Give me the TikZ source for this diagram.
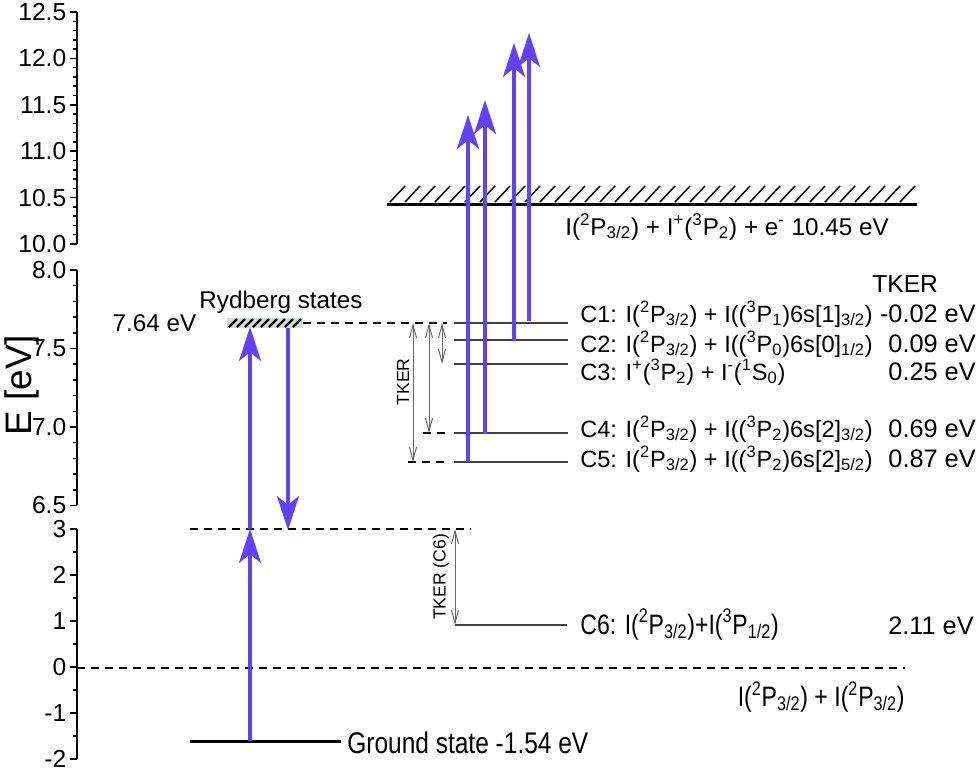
\documentclass[tikz,border=0pt]{standalone}
\usepackage{fontspec}
\setmainfont{Liberation Sans}
\newfontfamily\narrowfont[FakeStretch=0.82]{Liberation Sans}
\usetikzlibrary{arrows.meta,positioning}
\definecolor{laser}{RGB}{98,64,255}
\definecolor{rydfill}{RGB}{214,222,218}
\colorlet{tk}{black!60}
\newcommand{\st}[2]{\textsuperscript{#1}P\textsubscript{#2}}
\tikzset{ax/.style={line width=0.03cm},
  lvl/.style={draw=black!75, line width=0.025cm},
  dsh/.style={line width=0.03cm, dash pattern=on 0.16cm off 0.12cm},
  gnd/.style={line width=0.06cm},
  up/.style={draw=laser, line width=0.07cm, -{Stealth[length=0.68cm, width=0.44cm, inset=0.18cm]}},
  tker/.style={draw=tk, line width=0.02cm, {Straight Barb[length=0.26cm, width=0.14cm]}-{Straight Barb[length=0.26cm, width=0.14cm]}},
  tick/.style={anchor=east, inner sep=0pt, xshift=-0.06cm, font=\fontsize{14}{14}\selectfont},
  lab/.style={inner sep=0pt, font=\fontsize{13.4}{15}\selectfont},
  val/.style={inner sep=0pt, anchor=base east, font=\fontsize{14.4}{16}\selectfont},
  nar/.style={inner sep=0pt, font=\narrowfont\fontsize{17}{18}\selectfont},
  sml/.style={inner sep=0pt, rotate=90, font=\fontsize{10}{11}\selectfont}}

\begin{document}
\begin{tikzpicture}[x=0.02cm, y=-0.02cm]
\useasboundingbox (0,0) rectangle (980,772);

% broken energy axis
\draw[ax] (77,12) -- (77,244);
\draw[ax] (77,270) -- (77,505);
\draw[ax] (77,529) -- (77,759);
\foreach \i in {0,...,25} \draw[ax] (77,{244-\i*9.28}) -- ++(-4,0);
\foreach \e in {10.0,10.5,11.0,11.5,12.0,12.5}
  \draw[ax] (77,{244-(\e-10)*92.8}) -- ++(-7,0) node[tick] {\e};
\foreach \i in {0,...,15} \draw[ax] (77,{270+\i*15.7}) -- ++(-4,0);
\foreach \e in {6.5,7.0,7.5,8.0}
  \draw[ax] (77,{270+(8-\e)*157}) -- ++(-7,0) node[tick] {\e};
\foreach \i in {0,...,10} \draw[ax] (77,{529+\i*23}) -- ++(-4,0);
\foreach \e in {-2,...,3}
  \draw[ax] (77,{667-46*\e}) -- ++(-7,0) node[tick] {\e};
\node[rotate=90, inner sep=0pt, font=\fontsize{21}{22}\selectfont] (E) at (22,385) {E [eV]};

% ground state and two-photon level
\coordinate (g0) at (190,741);
\coordinate (g1) at (341,741);
\coordinate (gs) at (250,741);
\draw[gnd] (g0) -- (g1);
\node[nar, anchor=west] (gslab) at (347,743) {Ground state -1.54 eV};
\coordinate (m0) at (190,529);
\coordinate (m1) at (470,529);
\coordinate (mid) at (250,529);
\coordinate (dn) at (288,530);
\draw[dsh] (m0) -- (m1);
\coordinate (z0) at (77,668);
\coordinate (z1) at (905,668);
\draw[dsh] (z0) -- (z1);
\node[nar, font=\narrowfont\fontsize{16}{18}\selectfont, anchor=base east] (zlab) at (905,706) {I(\st{2}{3/2}) + I(\st{2}{3/2})};

% Rydberg states
\node[minimum width=1.52cm, minimum height=0.2cm, inner sep=0pt, fill=rydfill] (ryd) at (265,323) {};
\foreach \x in {229,237,...,295} \draw[line width=0.045cm] (\x,327) -- ++(8,-8);
\node[lab, font=\fontsize{13.8}{15}\selectfont] (rydlab) [above=0.08cm of ryd, xshift=0.32cm] {Rydberg states};
\node[lab, font=\fontsize{13.8}{15}\selectfont] (ryde) [left=0.6cm of ryd] {7.64 eV};
\coordinate (rup) at (250,327);
\coordinate (rdn) at (288,328);
\coordinate (t0) at (447,323);
\draw[dsh] (ryd.east) -- (t0);

\draw[up] (gs) -- (mid);
\draw[up] (mid) -- (rup);
\draw[up] (rdn) -- (dn);

% dissociation limits C1-C5
\foreach \n/\y in {1/323, 2/340, 3/364, 4/433, 5/462} {
  \coordinate (C\n) at (454,\y);
  \coordinate (E\n) at (568,\y);
  \draw[lvl] (C\n) -- (E\n);
}
\node[lab, anchor=base west] (l1) at (580,322) {C1: I(\st{2}{3/2}) + I((\st{3}{1})6s[1]\textsubscript{3/2})};
\node[lab, anchor=base west] (l2) at (580,352) {C2: I(\st{2}{3/2}) + I((\st{3}{0})6s[0]\textsubscript{1/2})};
\node[lab, anchor=base west] (l3) at (580,380) {C3: I\textsuperscript{+}(\st{3}{2}) + I\textsuperscript{-}(\textsuperscript{1}S\textsubscript{0})};
\node[lab, anchor=base west] (l4) at (580,437) {C4: I(\st{2}{3/2}) + I((\st{3}{2})6s[2]\textsubscript{3/2})};
\node[lab, anchor=base west] (l5) at (580,467) {C5: I(\st{2}{3/2}) + I((\st{3}{2})6s[2]\textsubscript{5/2})};
\node[lab, font=\fontsize{14}{15}\selectfont, anchor=base west] (tkh) at (872,292) {TKER};
\node[val] (v1) at (976,322) {-0.02 eV};
\node[val] (v2) at (976,352) {0.09 eV};
\node[val] (v3) at (976,380) {0.25 eV};
\node[val] (v4) at (976,437) {0.69 eV};
\node[val] (v5) at (976,467) {0.87 eV};

% TKER arrows
\coordinate (k4) at (423,433);
\coordinate (k5) at (408,462);
\coordinate (d4) at (447,433);
\coordinate (d5) at (447,462);
\draw[dsh] (k4) -- (d4);
\draw[dsh] (k5) -- (d5);
\coordinate (a1) at (413,323); \coordinate (b1) at (413,462);
\coordinate (a2) at (429,323); \coordinate (b2) at (429,433);
\coordinate (a3) at (442,323); \coordinate (b3) at (442,364);
\draw[tker] (a1) -- (b1);
\draw[tker] (a2) -- (b2);
\draw[tker] (a3) -- (b3);
\node[sml] (tk) at (403,382) {TKER};

% C6
\coordinate (C6) at (455,625);
\coordinate (E6) at (567,625);
\coordinate (a6) at (455,529);
\draw[lvl] (C6) -- (E6);
\draw[tker] (a6) -- (C6);
\node[sml] (tk6) at (441,577) {TKER (C6)};
\node[nar, font=\narrowfont\fontsize{16}{17}\selectfont, anchor=base west] (l6) at (580,634) {C6: I(\st{2}{3/2})+I(\st{3}{1/2})};
\node[val] (v6) at (974,634) {2.11 eV};

% ionisation limit
\coordinate (i0) at (387,204);
\coordinate (i1) at (917,204);
\draw[gnd] (i0) -- (i1);
\foreach \x in {390,405,...,900} \draw[line width=0.03cm] (\x,202) -- ++(15,-16);
\node[lab, font=\fontsize{13.8}{15}\selectfont, anchor=base west] (ion) at (565,235) {I(\st{2}{3/2}) + I\textsuperscript{+}(\st{3}{2}) + e\textsuperscript{-} 10.45 eV};

% probe photons
\coordinate (p5) at (468,115);
\coordinate (p4) at (485,100);
\coordinate (p2) at (514,43);
\coordinate (p1) at (529,33);
\coordinate (s5) at (468,462);
\coordinate (s4) at (485,434);
\coordinate (s2) at (514,341);
\coordinate (s1) at (529,321);
\draw[up] (s5) -- (p5);
\draw[up] (s4) -- (p4);
\draw[up] (s2) -- (p2);
\draw[up] (s1) -- (p1);
\end{tikzpicture}
\end{document}
